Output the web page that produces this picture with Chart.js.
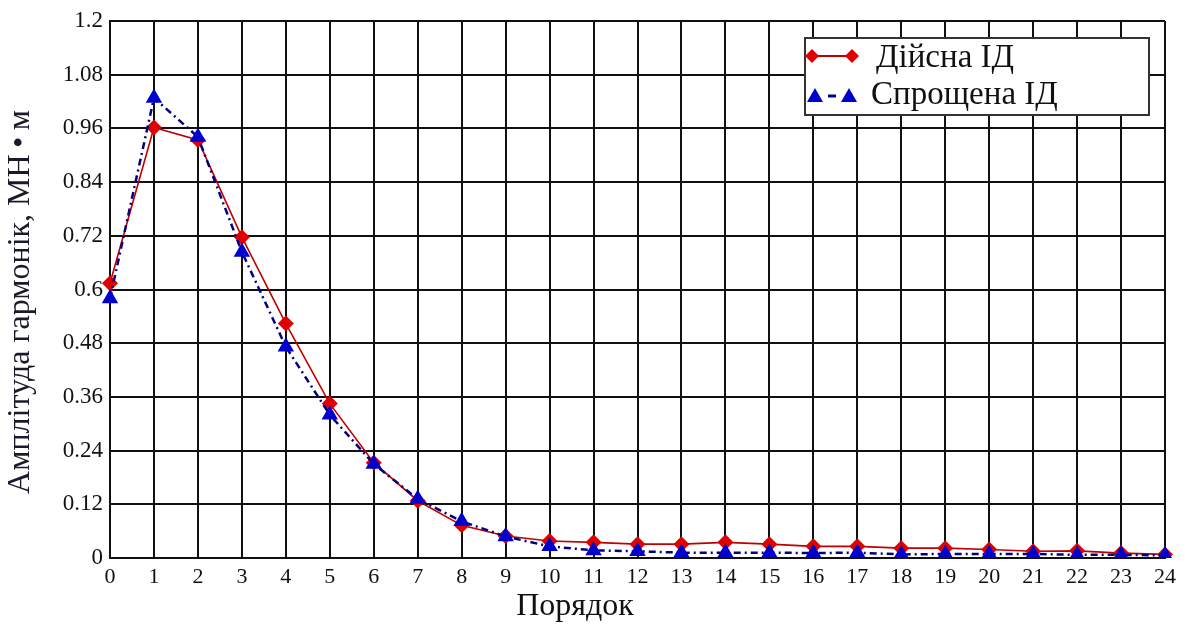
<!DOCTYPE html>
<html>
<head>
<meta charset="utf-8">
<script src="https://cdn.jsdelivr.net/npm/chart.js@4.4.1/dist/chart.umd.min.js"></script>
<style>
  html, body { margin: 0; padding: 0; background: #fff; }
  #wrap { width: 1187px; height: 624px; }
</style>
</head>
<body>
<div id="wrap"><canvas id="chart" width="1187" height="624"></canvas></div>
<script>
// Harmonic orders
const orders = ["0","1","2","3","4","5","6","7","8","9","10","11","12","13","14","15","16","17","18","19","20","21","22","23","24"];
// Real ID (Дійсна ІД)
const actualAmp = [0.614, 0.962, 0.934, 0.717, 0.524, 0.345, 0.213, 0.128, 0.073, 0.049, 0.038, 0.035, 0.031, 0.031, 0.035, 0.031, 0.026, 0.026, 0.022, 0.022, 0.019, 0.015, 0.016, 0.011, 0.008];
// Simplified ID (Спрощена ІД)
const simpleAmp = [0.580, 1.028, 0.941, 0.684, 0.472, 0.320, 0.210, 0.132, 0.082, 0.048, 0.026, 0.017, 0.015, 0.012, 0.012, 0.012, 0.011, 0.012, 0.008, 0.009, 0.009, 0.009, 0.007, 0.007, 0.006];
// Y ticks
const yTickValues = [0, 0.12, 0.24, 0.36, 0.48, 0.6, 0.72, 0.84, 0.96, 1.08, 1.2];
const yTickLabels = ["0", "0.12", "0.24", "0.36", "0.48", "0.6", "0.72", "0.84", "0.96", "1.08", "1.2"];
const seriesNames = ["Дійсна ІД", "Спрощена ІД"];
const xTitle = "Порядок";
const yTitle = "Амплітуда гармонік, МН\u2009•\u2009м";

const SERIF = "'Liberation Serif', 'DejaVu Serif', serif";

// legend in a box inside the plot, plus axis titles
const boxLegend = {
  id: "boxLegend",
  afterDraw(chart) {
    const ctx = chart.ctx;
    const x0 = 805, y0 = 38, w = 344, h = 77;
    ctx.save();
    ctx.fillStyle = "#fff";
    ctx.fillRect(x0, y0, w, h);
    ctx.lineWidth = 2;
    ctx.strokeStyle = "#333";
    ctx.strokeRect(x0, y0, w, h);

    // row 1: red diamonds with solid line
    let ly = 56;
    ctx.strokeStyle = "#C00000";
    ctx.lineWidth = 2;
    ctx.beginPath(); ctx.moveTo(812, ly); ctx.lineTo(852, ly); ctx.stroke();
    ctx.fillStyle = "#E00000";
    [812, 852].forEach(px => {
      ctx.beginPath();
      ctx.moveTo(px, ly - 7); ctx.lineTo(px + 7, ly); ctx.lineTo(px, ly + 7); ctx.lineTo(px - 7, ly);
      ctx.closePath(); ctx.fill();
    });

    // row 2: blue triangles with dash
    ly = 96;
    ctx.strokeStyle = "#000080";
    ctx.lineWidth = 3;
    ctx.beginPath(); ctx.moveTo(828, ly); ctx.lineTo(836, ly); ctx.stroke();
    ctx.fillStyle = "#0000CC";
    [815, 849].forEach(px => {
      ctx.beginPath();
      ctx.moveTo(px, ly - 8); ctx.lineTo(px + 8, ly + 6); ctx.lineTo(px - 8, ly + 6);
      ctx.closePath(); ctx.fill();
    });

    ctx.fillStyle = "#111";
    ctx.font = "33px " + SERIF;
    ctx.textBaseline = "middle";
    ctx.textAlign = "left";
    ctx.fillText(seriesNames[0], 876, 58);
    ctx.fillText(seriesNames[1], 871, 95);

    // x axis title
    ctx.font = "32px " + SERIF;
    ctx.textAlign = "center";
    ctx.fillText(xTitle, 575, 607);

    // y axis title
    ctx.translate(21, 302);
    ctx.rotate(-Math.PI / 2);
    ctx.fillStyle = "#1a1a2a";
    ctx.font = "32px " + SERIF;
    ctx.fillText(yTitle, 0, 0);
    ctx.restore();
  }
};

new Chart(document.getElementById("chart").getContext("2d"), {
  type: "line",
  data: {
    labels: orders,
    datasets: [
      {
        label: seriesNames[0],
        data: actualAmp,
        borderColor: "#C00000",
        backgroundColor: "#E00000",
        borderWidth: 1.6,
        pointStyle: "rectRot",
        pointRadius: 8,
        pointBorderWidth: 0,
        pointBackgroundColor: "#E00000",
        tension: 0,
        order: 1
      },
      {
        label: seriesNames[1],
        data: simpleAmp,
        borderColor: "#000080",
        backgroundColor: "#0000CC",
        borderWidth: 2.5,
        borderDash: [7, 4, 2, 4],
        pointStyle: "triangle",
        pointRadius: 9.5,
        pointBorderWidth: 0,
        pointBackgroundColor: "#0000CC",
        tension: 0,
        order: 0
      }
    ]
  },
  options: {
    responsive: false,
    animation: false,
    layout: { padding: { top: 21, right: 22, left: 0, bottom: 0 } },
    plugins: {
      legend: { display: false },
      tooltip: { enabled: false }
    },
    scales: {
      x: {
        type: "category",
        offset: false,
        grid: { color: "#111", lineWidth: 2, drawTicks: false, offset: false },
        border: { color: "#111", width: 2 },
        ticks: {
          color: "#111",
          font: { family: SERIF, size: 22 },
          padding: 6,
          maxRotation: 0,
          autoSkip: false
        },
        afterFit(scale) { scale.height = 66; }
      },
      y: {
        min: 0,
        max: 1.2,
        grid: { color: "#111", lineWidth: 2, drawTicks: false },
        border: { color: "#111", width: 2 },
        afterBuildTicks(scale) { scale.ticks = yTickValues.map(v => ({ value: v })); },
        ticks: {
          color: "#111",
          font: { family: SERIF, size: 23 },
          padding: 7,
          callback: (v, i) => yTickLabels[i]
        },
        afterFit(scale) { scale.width = 110; }
      }
    }
  },
  plugins: [boxLegend]
});
</script>
</body>
</html>
